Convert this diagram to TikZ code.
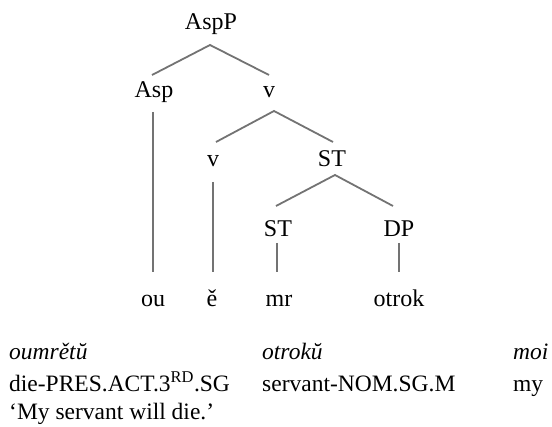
\documentclass[tikz,border=0pt]{standalone}
\usepackage{fontspec}
\setmainfont{Liberation Serif}
\usetikzlibrary{calc}
\definecolor{edgegray}{RGB}{115,115,115}
\begin{document}
\begin{tikzpicture}[x=1pt,y=-1pt,
  lab/.style={anchor=base,inner sep=0pt,font=\fontsize{24}{28}\selectfont},
  gl/.style={anchor=base west,inner sep=0pt,font=\fontsize{23.5}{28}\selectfont},
  edge/.style={draw=edgegray,line width=1.8pt}]
\useasboundingbox (0,0) rectangle (552,427);
% tree nodes
\node[lab] (AspP) at (211,30) {AspP};
\node[lab] (Asp) at (154,98) {Asp};
\node[lab] (v1) at (269,98) {v};
\node[lab] (v2) at (213,167) {v};
\node[lab] (ST1) at (332,167) {ST};
\node[lab] (ST2) at (278,237) {ST};
\node[lab] (DP) at (399,237) {DP};
\node[lab] (ou) at (153,307) {ou};
\node[lab] (e) at (212,307) {ě};
\node[lab] (mr) at (279,307) {mr};
\node[lab] (otrok) at (399,307) {otrok};
% edges
\draw[edge] ($(Asp.base)+(-2,-23)$) -- ($(AspP.base)+(-1,15)$) -- ($(v1.base)+(0,-23)$);
\draw[edge] ($(v2.base)+(3,-25)$) -- ($(v1.base)+(5,13)$) -- ($(ST1.base)+(1,-25)$);
\draw[edge] ($(ST2.base)+(-2,-31)$) -- ($(ST1.base)+(3,8)$) -- ($(DP.base)+(-6,-31)$);
\draw[edge] ($(Asp.base)+(-1,14)$) -- ($(ou.base)+(0,-35)$);
\draw[edge] ($(v2.base)+(0,15)$) -- ($(v2.base)+(0,105)$);
\draw[edge] ($(ST2.base)+(-1,6)$) -- ($(ST2.base)+(-1,35)$);
\draw[edge] ($(DP.base)+(0,6)$) -- ($(DP.base)+(0,35)$);
% gloss
\node[gl] (w1) at (9,360) {\itshape oumrětŭ};
\node[gl] (w2) at (262,360) {\itshape otrokŭ};
\node[gl] (w3) at (513,360) {\itshape moi};
\node[gl] (g1) at (9,392) {die-PRES.ACT.3\textsuperscript{RD}.SG};
\node[gl] (g2) at (262,392) {servant-NOM.SG.M};
\node[gl] (g3) at (513,392) {my};
\node[gl] (tr) at (9,420) {‘My servant will die.’};
\end{tikzpicture}
\end{document}
